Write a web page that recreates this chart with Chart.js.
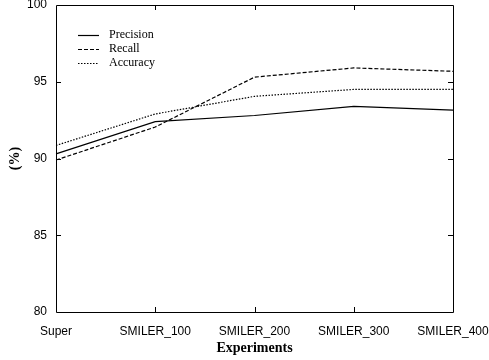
<!DOCTYPE html>
<html>
<head>
<meta charset="utf-8">
<script src="https://cdn.jsdelivr.net/npm/chart.js@4/dist/chart.umd.min.js"></script>
<style>
  html, body { margin: 0; padding: 0; background: #fff; }
  #wrap { width: 489px; height: 360px; }
</style>
</head>
<body>
<div id="wrap"><canvas id="chart" width="489" height="360"></canvas></div>
<script>
const categories = ["Super", "SMILER_100", "SMILER_200", "SMILER_300", "SMILER_400"];
const precision = [90.3, 92.4, 92.8, 93.4, 93.15];
const recall = [89.9, 92.05, 95.3, 95.9, 95.68];
const accuracy = [90.85, 92.9, 94.05, 94.5, 94.5];
const yTicks = [80, 85, 90, 95, 100];

const sans = "'Liberation Sans', Arial, sans-serif";
const serif = "'Liberation Serif', 'Times New Roman', serif";

// inward ticks on all four sides + box frame
const frameTicks = {
  id: "frameTicks",
  afterDraw(chart) {
    const { ctx, chartArea: a, scales } = chart;
    ctx.save();
    ctx.strokeStyle = "#000";
    ctx.lineWidth = 1;
    ctx.beginPath();
    ctx.rect(a.left + 0.5, a.top + 0.5, a.right - a.left, a.bottom - a.top);
    for (let i = 1; i < categories.length - 1; i++) {
      const x = Math.round(scales.x.getPixelForValue(i)) + 0.5;
      ctx.moveTo(x, a.bottom); ctx.lineTo(x, a.bottom - 5);
      ctx.moveTo(x, a.top); ctx.lineTo(x, a.top + 5);
    }
    for (const v of yTicks.slice(1, -1)) {
      const y = Math.round(scales.y.getPixelForValue(v)) + 0.5;
      ctx.moveTo(a.left, y); ctx.lineTo(a.left + 5, y);
      ctx.moveTo(a.right, y); ctx.lineTo(a.right - 5, y);
    }
    ctx.stroke();
    ctx.restore();
  }
};

// legend drawn inside the plot, top-left
const innerLegend = {
  id: "innerLegend",
  afterDraw(chart) {
    const { ctx, chartArea: a } = chart;
    ctx.save();
    ctx.font = "12px " + serif;
    ctx.textBaseline = "middle";
    chart.data.datasets.forEach((ds, i) => {
      const y = a.top + 30 + i * 14;
      ctx.strokeStyle = "#000";
      ctx.lineWidth = ds.borderWidth;
      ctx.setLineDash(ds.borderDash || []);
      ctx.beginPath();
      ctx.moveTo(a.left + 22, y + 0.5);
      ctx.lineTo(a.left + 43, y + 0.5);
      ctx.stroke();
      ctx.fillStyle = "#000";
      ctx.fillText(ds.label, a.left + 53, y);
    });
    ctx.restore();
  }
};

new Chart(document.getElementById("chart"), {
  type: "line",
  data: {
    labels: categories,
    datasets: [
      { label: "Precision", data: precision, borderColor: "#000", borderWidth: 1.2, borderDash: [], pointRadius: 0, tension: 0 },
      { label: "Recall", data: recall, borderColor: "#000", borderWidth: 1.2, borderDash: [4, 2], pointRadius: 0, tension: 0 },
      { label: "Accuracy", data: accuracy, borderColor: "#000", borderWidth: 1.2, borderDash: [1.5, 1.5], pointRadius: 0, tension: 0 },
    ],
  },
  options: {
    responsive: false,
    animation: false,
    layout: { padding: { left: 0, right: 36, top: 5, bottom: 0 } },
    plugins: { legend: { display: false }, tooltip: { enabled: false } },
    scales: {
      x: {
        offset: false,
        grid: { display: false, drawTicks: false },
        border: { display: false },
        ticks: { color: "#000", font: { family: sans, size: 12 }, padding: 12, maxRotation: 0, autoSkip: false },
        title: { display: true, text: "Experiments", color: "#000", font: { family: serif, size: 14, weight: "bold" }, padding: { top: 0, bottom: 3 } },
        afterFit(scale) {
          scale.height = 48;
          scale.paddingLeft = 0;
          scale.paddingRight = 0;
        },
      },
      y: {
        min: 80,
        max: 100,
        afterBuildTicks(scale) { scale.ticks = yTicks.map(v => ({ value: v })); },
        grid: { display: false, drawTicks: false },
        border: { display: false },
        ticks: { color: "#000", font: { family: sans, size: 12 }, padding: 9 },
        title: { display: true, text: "(%)", color: "#000", font: { family: serif, size: 14, weight: "bold" }, padding: { top: 7, bottom: 0 } },
        afterFit(scale) {
          scale.width = 56;
          scale.paddingTop = 0;
          scale.paddingBottom = 0;
        },
      },
    },
  },
  plugins: [frameTicks, innerLegend],
});
</script>
</body>
</html>
